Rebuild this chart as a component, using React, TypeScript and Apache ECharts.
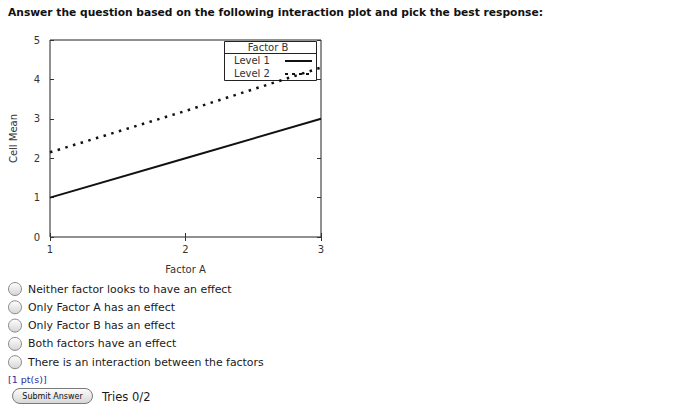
import React, { useEffect, useRef } from "react";
import * as echarts from "echarts";

const factorA = [1, 2, 3];
const level1 = [1.0, 2.0, 3.0];
const level2 = [2.15, 3.2, 4.3];
const xTicks = [1, 2, 3];
const yTicks = [0, 1, 2, 3, 4, 5];
const titleText = "Answer the question based on the following interaction plot and pick the best response:";
const choices = [
  "Neither factor looks to have an effect",
  "Only Factor A has an effect",
  "Only Factor B has an effect",
  "Both factors have an effect",
  "There is an interaction between the factors",
];

export default function App() {
  const ref = useRef<HTMLDivElement>(null);
  useEffect(() => {
    const chart = echarts.init(ref.current!, null, { renderer: "svg" });
    const font = "DejaVu Sans";
    const tickColor = "#333";
    const axisCommon = {
      axisLine: { show: false },
      splitLine: { show: false },
    };
    const radioGraphics: any[] = [];
    choices.forEach((c, i) => {
      const cy = 289 + i * 18.3;
      radioGraphics.push({
        type: "circle",
        shape: { cx: 15, cy, r: 6.5 },
        style: {
          fill: new echarts.graphic.LinearGradient(0, 0, 0, 1, [
            { offset: 0, color: "#ffffff" },
            { offset: 1, color: "#d4d4d4" },
          ]),
          stroke: "#8a8a8a",
          lineWidth: 1,
        },
      });
      radioGraphics.push({
        type: "text",
        x: 28,
        y: cy,
        style: { text: c, font: `10.9px ${font}`, fill: "#1a1a1a", textVerticalAlign: "middle" },
      });
    });

    const option: any = {
      animation: false,
      backgroundColor: "#ffffff",
      grid: { left: 50, right: 379, top: 40, bottom: 179, show: true, borderColor: "#222", borderWidth: 1 },
      xAxis: [
        {
          type: "value",
          min: 1,
          max: 3,
          interval: 1,
          position: "bottom",
          ...axisCommon,
          axisTick: { show: true, inside: true, length: 4, lineStyle: { color: tickColor } },
          axisLabel: { color: "#333", fontFamily: font, fontSize: 10, margin: 7,
            formatter: (v: number) => (xTicks.includes(v) ? String(v) : "") },
          name: "Factor A",
          nameLocation: "middle",
          nameGap: 27,
          nameTextStyle: { color: "#333", fontFamily: font, fontSize: 10 },
        },
        {
          type: "value",
          min: 1,
          max: 3,
          interval: 1,
          position: "top",
          ...axisCommon,
          axisTick: { show: true, inside: true, length: 4, lineStyle: { color: tickColor } },
          axisLabel: { show: false },
        },
      ],
      yAxis: [
        {
          type: "value",
          min: 0,
          max: 5,
          interval: 1,
          position: "left",
          ...axisCommon,
          axisTick: { show: true, inside: true, length: 4, lineStyle: { color: tickColor } },
          axisLabel: { color: "#333", fontFamily: font, fontSize: 10, margin: 10,
            formatter: (v: number) => (yTicks.includes(v) ? String(v) : "") },
          name: "Cell Mean",
          nameLocation: "middle",
          nameGap: 32,
          nameRotate: 90,
          nameTextStyle: { color: "#333", fontFamily: font, fontSize: 10 },
        },
        {
          type: "value",
          min: 0,
          max: 5,
          interval: 1,
          position: "right",
          ...axisCommon,
          axisTick: { show: true, inside: true, length: 4, lineStyle: { color: tickColor } },
          axisLabel: { show: false },
        },
      ],
      series: [
        {
          name: "Level 1",
          type: "line",
          data: factorA.map((a, i) => [a, level1[i]]),
          showSymbol: false,
          lineStyle: { color: "#111", width: 2, type: "solid" },
          z: 5,
        },
        {
          name: "Level 2",
          type: "line",
          data: factorA.map((a, i) => [a, level2[i]]),
          showSymbol: false,
          lineStyle: { color: "#111", width: 2.5, type: [2.5, 5.5] },
          z: 5,
        },
      ],
      graphic: [
        {
          type: "text",
          x: 8,
          y: 12,
          style: { text: titleText, font: `bold 10.7px ${font}`, fill: "#111", textVerticalAlign: "middle" },
        },
        {
          type: "rect",
          shape: { x: 224.5, y: 41.5, width: 92, height: 39 },
          style: { fill: "none", stroke: "#222", lineWidth: 1 },
        },
        {
          type: "line",
          shape: { x1: 224.5, y1: 53.5, x2: 316.5, y2: 53.5 },
          style: { stroke: "#222", lineWidth: 1 },
        },
        {
          type: "text",
          x: 268,
          y: 47.5,
          style: { text: "Factor B", font: `10px ${font}`, fill: "#333", textAlign: "center", textVerticalAlign: "middle" },
        },
        {
          type: "text",
          x: 234,
          y: 60.5,
          style: { text: "Level 1", font: `10px ${font}`, fill: "#333", textVerticalAlign: "middle" },
        },
        {
          type: "line",
          shape: { x1: 285, y1: 61, x2: 312, y2: 61 },
          style: { stroke: "#111", lineWidth: 2 },
        },
        {
          type: "text",
          x: 234,
          y: 73.5,
          style: { text: "Level 2", font: `10px ${font}`, fill: "#333", textVerticalAlign: "middle" },
        },
        {
          type: "line",
          shape: { x1: 285, y1: 74, x2: 312, y2: 74 },
          style: { stroke: "#111", lineWidth: 2, lineDash: [3, 4] },
        },
        ...radioGraphics,
        {
          type: "text",
          x: 8,
          y: 379,
          style: { text: "[1 pt(s)]", font: `9.5px ${font}`, fill: "#2a2aa0", textVerticalAlign: "middle" },
        },
        {
          type: "rect",
          shape: { x: 12.5, y: 388.5, width: 80, height: 15, r: 7.5 },
          style: {
            fill: new echarts.graphic.LinearGradient(0, 0, 0, 1, [
              { offset: 0, color: "#fdfdfd" },
              { offset: 1, color: "#d6d6d6" },
            ]),
            stroke: "#7a7a7a",
            lineWidth: 1,
          },
        },
        {
          type: "text",
          x: 52.5,
          y: 396,
          style: { text: "Submit Answer", font: `8px ${font}`, fill: "#111", textAlign: "center", textVerticalAlign: "middle" },
        },
        {
          type: "text",
          x: 102,
          y: 397,
          style: { text: "Tries 0/2", font: `11.5px ${font}`, fill: "#1a1a1a", textVerticalAlign: "middle" },
        },
      ],
    };
    chart.setOption(option);
    return () => chart.dispose();
  }, []);
  return (
    <div
      ref={ref}
      style={{ position: "fixed", left: 0, top: 0, width: 700, height: 416, background: "#fff" }}
    />
  );
}
